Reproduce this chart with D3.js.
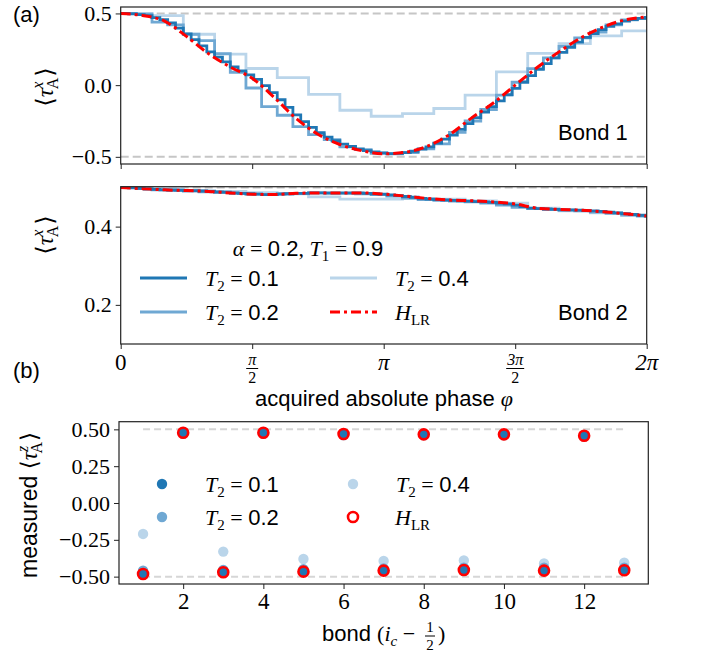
<!DOCTYPE html>
<html><head><meta charset="utf-8">
<script src="https://cdn.jsdelivr.net/npm/d3@7"></script>
<style>body{margin:0;background:#fff} svg{display:block}</style>
</head><body><svg id="c" width="702" height="658"></svg>
<script>
// ---------------- DATA ----------------
const TWO_PI = 2 * Math.PI;
// step widths (rad) of the Trotterised curves
const stepLight = 0.374, stepMed = 0.187, stepDark = 0.0935;
// H_LR sampled every pi/12
const hlrStep = Math.PI / 12;

// Bond 1
const bond1_HLR = [0.500,0.486,0.447,0.340,0.220,0.126,0.048,-0.085,-0.232,-0.342,-0.414,-0.457,-0.479,-0.468,-0.425,-0.345,-0.230,-0.125,0.000,0.123,0.232,0.330,0.405,0.455,0.476];
const bond1_T01 = [0.500,0.497,0.492,0.485,0.471,0.457,0.434,0.398,0.358,0.318,
  0.274,0.232,0.196,0.162,0.128,0.100,0.072,0.040,-0.004,-0.052,
  -0.102,-0.155,-0.208,-0.254,-0.294,-0.332,-0.362,-0.388,-0.412,-0.428,
  -0.444,-0.457,-0.466,-0.473,-0.477,-0.476,-0.471,-0.461,-0.446,-0.430,
  -0.405,-0.377,-0.348,-0.308,-0.268,-0.226,-0.188,-0.150,-0.110,-0.066,
  -0.022,0.022,0.066,0.110,0.150,0.190,0.228,0.264,0.300,0.333,
  0.360,0.387,0.410,0.428,0.446,0.457,0.465,0.472];
const bond1_T02 = [0.500,0.495,0.440,0.420,0.355,0.310,0.220,0.090,-0.020,-0.150,
  -0.210,-0.290,-0.345,-0.380,-0.430,-0.450,-0.475,-0.480,-0.470,-0.445,
  -0.410,-0.330,-0.250,-0.170,-0.070,0.020,0.115,0.190,0.270,0.330,
  0.370,0.420,0.455,0.465];
const bond1_T04 = [0.500,0.485,0.355,0.216,0.116,0.053,-0.065,-0.175,-0.217,-0.199,-0.163,-0.070,0.092,0.221,0.290,0.344,0.379];

// Bond 2
const bond2_HLR = [0.500,0.497,0.494,0.492,0.490,0.486,0.483,0.482,0.485,0.486,0.486,0.486,0.483,0.478,0.472,0.468,0.466,0.463,0.458,0.447,0.444,0.442,0.438,0.433,0.427];
const bond2_T01 = [0.500,0.499,0.498,0.496,0.495,0.494,0.494,0.493,0.492,0.492,
  0.491,0.490,0.489,0.488,0.486,0.485,0.484,0.483,0.482,0.482,
  0.483,0.484,0.485,0.485,0.486,0.486,0.486,0.486,0.486,0.486,
  0.486,0.485,0.484,0.483,0.481,0.479,0.477,0.475,0.472,0.470,
  0.469,0.468,0.467,0.466,0.465,0.464,0.463,0.462,0.460,0.458,
  0.455,0.451,0.447,0.446,0.445,0.444,0.443,0.443,0.442,0.441,
  0.440,0.439,0.437,0.435,0.433,0.431,0.429,0.427];
const bond2_T02 = [0.500,0.497,0.494,0.492,0.491,0.489,0.487,0.485,0.483,0.482,
  0.484,0.485,0.486,0.485,0.485,0.484,0.482,0.478,0.473,0.469,
  0.467,0.465,0.463,0.460,0.455,0.449,0.446,0.444,0.442,0.440,
  0.437,0.434,0.430,0.427];
const bond2_T04 = [0.500,0.497,0.492,0.490,0.487,0.484,0.476,0.470,0.470,0.472,0.470,0.466,0.460,0.447,0.440,0.435,0.428];

// Panel (b)
const bonds = [1,2,3,4,5,6,7,8,9,10,11,12,13];
const tauZ_T01 = [-0.482,0.477,-0.470,0.477,-0.466,0.468,-0.459,0.466,-0.455,0.466,-0.459,0.457,-0.457];
const tauZ_T02 = [-0.460,0.475,-0.455,0.474,-0.450,0.466,-0.445,0.464,-0.440,0.463,-0.440,0.455,-0.440];
const tauZ_T04 = [-0.210,0.470,-0.330,0.470,-0.380,0.460,-0.393,0.460,-0.390,0.460,-0.410,0.450,-0.405];
const tauZ_HLR = [-0.482,0.477,-0.470,0.477,-0.466,0.468,-0.459,0.466,-0.455,0.466,-0.459,0.457,-0.457];

const phiTicks = [0, Math.PI/2, Math.PI, 3*Math.PI/2, 2*Math.PI];
const phiTickLabels = [["0"],["π","2"],["π"],["3π","2"],["2π"]];
const yTicksA1 = [-0.5, 0.0, 0.5];
const yTicksA2 = [0.2, 0.4];
const yTicksB = [-0.5, -0.25, 0.0, 0.25, 0.5];
const xTicksB = [2,4,6,8,10,12];

// ---------------- STYLE ----------------
const C_DARK = "#1f77b4", C_MED = "#6fa8d3", C_LIGHT = "#bad5ea", C_RED = "#ff0000";
const SERIF = "'Liberation Serif','DejaVu Serif',serif";
const SANS = "'Liberation Sans',Arial,sans-serif";
const svg = d3.select("#c");

const xA = d3.scaleLinear().domain([0, TWO_PI]).range([120.7, 646.7]);
const yA1 = d3.scaleLinear().domain([-0.55, 0.545]).range([164, 7]);
const yA2 = d3.scaleLinear().domain([0.1, 0.502]).range([344, 186.7]);
const xB = d3.scaleLinear().domain([0.4, 13.6]).range([119, 648.3]);
const yB = d3.scaleLinear().domain([-0.55, 0.552]).range([584, 421.7]);

const fmt = d3.format(".1f"), fmt2 = d3.format(".2f");
function minusFix(s){ return s.replace("-", "−"); }

// math text helper
function mtext(g, x, y, parts, size, anchor){
  const t = g.append("text").attr("x", x).attr("y", y).attr("font-size", size)
    .attr("text-anchor", anchor || "start").attr("fill", "#000");
  parts.forEach(p => {
    const s = t.append("tspan").text(p.t)
      .style("font-family", p.fam === "sans" ? SANS : SERIF)
      .attr("font-style", p.it ? "italic" : "normal");
    if (p.size) s.attr("font-size", p.size);
    if (p.dy) s.attr("dy", p.dy);
    if (p.dx) s.attr("dx", p.dx);
  });
  return t;
}

function frame(x, y, clipId){
  const [x0, x1] = x.range(), [y1, y0] = y.range();
  svg.append("clipPath").attr("id", clipId).append("rect")
    .attr("x", x0).attr("y", y0).attr("width", x1 - x0).attr("height", y1 - y0);
}
function box(x, y){
  const [x0, x1] = x.range(), [y1, y0] = y.range();
  svg.append("rect").attr("x", x0).attr("y", y0).attr("width", x1 - x0).attr("height", y1 - y0)
    .attr("fill", "none").attr("stroke", "#222").attr("stroke-width", 1.2);
}
function yAxis(y, ticks, f, x0){
  const g = svg.append("g").attr("transform", `translate(${x0},0)`)
    .call(d3.axisLeft(y).tickValues(ticks).tickSize(5).tickPadding(4).tickFormat(d => minusFix(f(d))));
  g.attr("font-family", null);
  g.select(".domain").remove();
  g.selectAll(".tick line").attr("stroke", "#222").attr("stroke-width", 1);
  g.selectAll(".tick text").style("font-family", SERIF).attr("font-size", 22).attr("fill", "#000");
  return g;
}
function xAxisTicks(x, ticks, yPos){
  const g = svg.append("g").attr("transform", `translate(0,${yPos})`)
    .call(d3.axisBottom(x).tickValues(ticks).tickSize(5).tickFormat(""));
  g.select(".domain").remove();
  g.selectAll(".tick line").attr("stroke", "#222").attr("stroke-width", 1);
  return g;
}

function stepPts(vals, step){
  const pts = vals.map((v, i) => [i * step, v]);
  pts.push([TWO_PI, vals[vals.length - 1]]);
  return pts;
}
function drawPanelA(y, clipId, dat){
  frame(xA, y, clipId);
  const g = svg.append("g").attr("clip-path", `url(#${clipId})`);
  const stepLine = d3.line().x(d => xA(d[0])).y(d => y(d[1])).curve(d3.curveStepAfter);
  const smooth = d3.line().x(d => xA(d[0])).y(d => y(d[1])).curve(d3.curveMonotoneX);
  [-0.5, 0.5].forEach(v => g.append("line").attr("x1", xA(0)).attr("x2", xA(TWO_PI))
    .attr("y1", y(v)).attr("y2", y(v)).attr("stroke", "#c6c6c6").attr("stroke-width", 2)
    .attr("stroke-dasharray", "8,4"));
  g.append("path").datum(stepPts(dat.t04, stepLight)).attr("d", stepLine)
    .attr("fill", "none").attr("stroke", C_LIGHT).attr("stroke-width", 2.8);
  g.append("path").datum(stepPts(dat.t02, stepMed)).attr("d", stepLine)
    .attr("fill", "none").attr("stroke", C_MED).attr("stroke-width", 2.8);
  g.append("path").datum(stepPts(dat.t01, stepDark)).attr("d", stepLine)
    .attr("fill", "none").attr("stroke", C_DARK).attr("stroke-width", 2.8);
  g.append("path").datum(dat.hlr.map((v, i) => [i * hlrStep, v])).attr("d", smooth)
    .attr("fill", "none").attr("stroke", C_RED).attr("stroke-width", 3)
    .attr("stroke-dasharray", "10,4,3,4");
  box(xA, y);
  xAxisTicks(xA, phiTicks, y.range()[0]);
}

// ---------- Panel (a) top: bond 1 ----------
drawPanelA(yA1, "clipA1", {t01: bond1_T01, t02: bond1_T02, t04: bond1_T04, hlr: bond1_HLR});
yAxis(yA1, yTicksA1, fmt, 120.7);
svg.append("text").attr("x", 558).attr("y", 140).style("font-family", SANS).attr("font-size", 22).text("Bond 1");

// ---------- Panel (a) bottom: bond 2 ----------
drawPanelA(yA2, "clipA2", {t01: bond2_T01, t02: bond2_T02, t04: bond2_T04, hlr: bond2_HLR});
yAxis(yA2, yTicksA2, fmt, 120.7);
svg.append("text").attr("x", 558).attr("y", 320).style("font-family", SANS).attr("font-size", 22).text("Bond 2");

// phi tick labels
phiTicks.forEach((v, i) => {
  const lab = phiTickLabels[i], x = xA(v);
  if (lab.length === 1) {
    svg.append("text").attr("x", x).attr("y", 370).attr("text-anchor", "middle")
      .style("font-family", SERIF).attr("font-size", 23).attr("font-style", lab[0].includes("π") ? "italic" : "normal")
      .text(lab[0]);
  } else {
    svg.append("text").attr("x", x).attr("y", 365).attr("text-anchor", "middle")
      .style("font-family", SERIF).attr("font-size", 16).attr("font-style", "italic").text(lab[0]);
    svg.append("line").attr("x1", x - (lab[0].length > 1 ? 9 : 6)).attr("x2", x + (lab[0].length > 1 ? 9 : 6))
      .attr("y1", 368.5).attr("y2", 368.5).attr("stroke", "#000").attr("stroke-width", 1);
    svg.append("text").attr("x", x).attr("y", 383).attr("text-anchor", "middle")
      .style("font-family", SERIF).attr("font-size", 16).text(lab[1]);
  }
});
// x label
mtext(svg, 384, 406, [{t: "acquired absolute phase ", fam: "sans"}, {t: "φ", it: true}], 22, "middle");

// y labels <tau_A^x>
function tauLabel(cx, cy, sup, prefix, size){
  const g = svg.append("g").attr("transform", `translate(${cx},${cy}) rotate(-90)`);
  const s = size || 24, ss = Math.round(s * 0.68);
  const parts = [];
  if (prefix) parts.push({t: prefix, fam: "sans"});
  parts.push({t: "⟨"});
  parts.push({t: "τ", it: true});
  parts.push({t: sup, it: true, size: ss, dy: -s * 0.4});
  parts.push({t: "A", size: ss, dy: s * 0.62, dx: -ss * 0.48});
  parts.push({t: "⟩", dy: -s * 0.22, dx: 1});
  mtext(g, 0, 8, parts, s, "middle");
}
tauLabel(45, 87, "x");
tauLabel(45, 235, "x");
tauLabel(29, 505, "z", "measured ", 23);

// legend panel (a)
mtext(svg, 308, 256, [{t: "α", it: true}, {t: " = "}, {t: "0.2", fam: "sans"}, {t: ", "},
  {t: "T", it: true}, {t: "1", size: 15, dy: 5}, {t: " = ", dy: -5}, {t: "0.9", fam: "sans"}], 22, "middle");
const legA = [
  {x: 140, y: 278, c: C_DARK, lab: "0.1"},
  {x: 140, y: 312, c: C_MED, lab: "0.2"},
  {x: 330, y: 278, c: C_LIGHT, lab: "0.4"},
];
legA.forEach(d => {
  svg.append("line").attr("x1", d.x).attr("x2", d.x + 47).attr("y1", d.y).attr("y2", d.y)
    .attr("stroke", d.c).attr("stroke-width", 2.8);
  mtext(svg, d.x + 65, d.y + 8, [{t: "T", it: true}, {t: "2", size: 15, dy: 5}, {t: " = ", dy: -5}, {t: d.lab, fam: "sans"}], 22);
});
svg.append("line").attr("x1", 330).attr("x2", 377).attr("y1", 312).attr("y2", 312)
  .attr("stroke", C_RED).attr("stroke-width", 3).attr("stroke-dasharray", "10,4,3,4");
mtext(svg, 395, 320, [{t: "H", it: true}, {t: "LR", size: 15, dy: 5}], 22);

// panel labels
svg.append("text").attr("x", 13).attr("y", 22).style("font-family", SANS).attr("font-size", 22).text("(a)");
svg.append("text").attr("x", 13).attr("y", 378).style("font-family", SANS).attr("font-size", 22).text("(b)");

// ---------- Panel (b) ----------
frame(xB, yB, "clipB");
const gB = svg.append("g");
[-0.5, 0.5].forEach(v => gB.append("line").attr("x1", xB(1)).attr("x2", xB(13))
  .attr("y1", yB(v)).attr("y2", yB(v)).attr("stroke", "#d6d6d6").attr("stroke-width", 2)
  .attr("stroke-dasharray", "7,4"));
const ser = [
  {v: tauZ_T04, c: C_LIGHT},
  {v: tauZ_T02, c: C_MED},
  {v: tauZ_T01, c: C_DARK},
];
ser.forEach(s => gB.selectAll(null).data(bonds).enter().append("circle")
  .attr("cx", d => xB(d)).attr("cy", (d, i) => yB(s.v[i])).attr("r", 5.2).attr("fill", s.c));
gB.selectAll(null).data(bonds).enter().append("circle")
  .attr("cx", d => xB(d)).attr("cy", (d, i) => yB(tauZ_HLR[i])).attr("r", 5)
  .attr("fill", "none").attr("stroke", C_RED).attr("stroke-width", 2.6);
box(xB, yB);
yAxis(yB, yTicksB, fmt2, 119);
const gxB = svg.append("g").attr("transform", `translate(0,584)`)
  .call(d3.axisBottom(xB).tickValues(xTicksB).tickSize(5).tickPadding(4));
gxB.attr("font-family", null);
gxB.select(".domain").remove();
gxB.selectAll(".tick line").attr("stroke", "#222");
gxB.selectAll(".tick text").style("font-family", SERIF).attr("font-size", 23).attr("fill", "#000");

// legend (b)
const legB = [
  {x: 162, y: 484, c: C_DARK, lab: "0.1"},
  {x: 162, y: 517, c: C_MED, lab: "0.2"},
  {x: 353, y: 484, c: C_LIGHT, lab: "0.4"},
];
legB.forEach(d => {
  svg.append("circle").attr("cx", d.x).attr("cy", d.y).attr("r", 5.2).attr("fill", d.c);
  mtext(svg, d.x + 43, d.y + 8, [{t: "T", it: true}, {t: "2", size: 15, dy: 5}, {t: " = ", dy: -5}, {t: d.lab, fam: "sans"}], 22);
});
svg.append("circle").attr("cx", 353).attr("cy", 517).attr("r", 5).attr("fill", "none")
  .attr("stroke", C_RED).attr("stroke-width", 2.6);
mtext(svg, 395, 525, [{t: "H", it: true}, {t: "LR", size: 15, dy: 5}], 22);

// x label (b)
mtext(svg, 322, 641, [{t: "bond ", fam: "sans"}, {t: "("}, {t: "i", it: true}, {t: "c", it: true, size: 15, dy: 5},
  {t: " − ", dy: -5}], 22);
svg.append("text").attr("x", 430).attr("y", 632).style("font-family", SERIF).attr("font-size", 15).attr("text-anchor", "middle").text("1");
svg.append("line").attr("x1", 425).attr("x2", 435).attr("y1", 636).attr("y2", 636).attr("stroke", "#000");
svg.append("text").attr("x", 430).attr("y", 650).style("font-family", SERIF).attr("font-size", 15).attr("text-anchor", "middle").text("2");
svg.append("text").attr("x", 438).attr("y", 641).style("font-family", SERIF).attr("font-size", 22).text(")");
</script></body></html>
